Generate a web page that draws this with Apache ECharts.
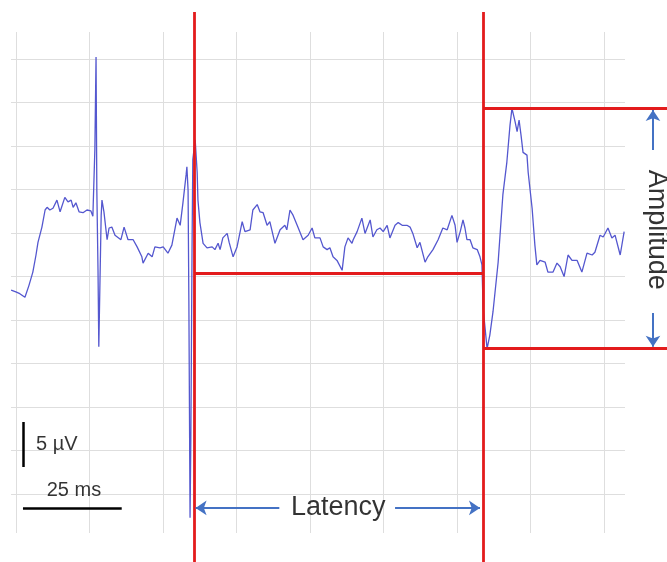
<!DOCTYPE html>
<html>
<head>
<meta charset="utf-8">
<script src="https://cdn.jsdelivr.net/npm/echarts@6/dist/echarts.min.js"></script>
<style>
  html, body { margin: 0; padding: 0; background: #ffffff; }
  #chart { width: 667px; height: 562px; }
</style>
</head>
<body>
<div id="chart"></div>
<script>
// Evoked response trace: time relative to stimulus (ms) and potential (µV)
const timeMs = [
  -46.3, -45.1, -44.1, -42.8, -41.8, -40.8, -40.0, -39.5, -38.5, -37.7,
  -37.2, -36.5, -35.7, -34.7, -33.9, -32.7, -31.9, -31.1, -30.6, -29.9,
  -29.1, -28.1, -27.1, -26.1, -25.6, -25.1, -24.8, -24.6, -24.3, -24.1,
  -23.8, -23.5, -23.3, -22.8, -22.0, -21.5, -20.8, -20.0, -19.5, -18.5,
  -17.7, -16.7, -15.4, -14.4, -13.2, -12.9, -11.6, -10.6, -9.9, -8.6,
  -7.8, -6.6, -5.6, -4.3, -3.5, -2.8, -2.0, -1.8, -1.5, -1.3,
  -1.0, -0.8, -0.5, -0.3, 0.3, 0.8, 1.0, 1.5, 2.3, 3.3,
  4.6, 5.3, 6.1, 6.6, 7.3, 8.4, 8.9, 9.9, 10.9, 12.2,
  12.9, 14.2, 14.9, 16.0, 16.7, 17.5, 18.5, 19.2, 20.5, 21.8,
  23.0, 23.5, 24.3, 25.1, 26.3, 27.6, 28.9, 29.9, 30.6, 31.9,
  32.7, 33.7, 34.4, 35.2, 36.2, 37.5, 38.2, 39.0, 40.0, 40.3,
  41.3, 42.5, 43.3, 44.6, 45.3, 46.3, 47.1, 47.9, 48.9, 49.6,
  50.9, 51.7, 52.7, 53.9, 54.7, 55.4, 56.5, 57.2, 58.5, 59.2,
  60.5, 61.8, 63.0, 64.1, 65.3, 66.1, 66.6, 67.4, 68.1, 68.6,
  69.1, 69.9, 70.6, 71.7, 72.4, 72.9, 73.2, 74.2, 74.9, 75.7,
  77.0, 78.2, 79.2, 80.0, 80.5, 81.3, 81.8, 82.3, 82.8, 83.3,
  84.3, 84.6, 85.6, 86.3, 86.8, 87.6, 88.9, 89.6, 90.9, 91.9,
  92.7, 93.7, 94.7, 95.7, 97.0, 98.2, 99.5, 100.8, 101.5, 102.8,
  103.6, 104.8, 105.8, 106.6, 107.9, 108.9
];
const potentialUv = [
  -1.9, -2.1, -2.3, -2.7, -1.4, 0.1, 2.0, 3.4, 5.1, 7.0,
  7.3, 7.0, 7.2, 8.1, 6.8, 8.4, 7.9, 8.1, 7.3, 7.8,
  6.8, 6.7, 7.0, 6.9, 6.3, 13.7, 24.0, 9.2, 0.3, -8.2,
  -0.8, 6.4, 8.1, 6.8, 3.7, 5.0, 5.1, 4.2, 4.4, 3.7,
  5.1, 3.7, 3.7, 2.9, 1.8, 1.1, 2.2, 1.8, 2.9, 2.8,
  2.9, 2.2, 3.1, 6.1, 5.3, 7.8, 10.9, 11.8, 9.2, -3.0,
  -27.2, -18.6, 2.6, 12.6, 14.8, 11.2, 8.1, 5.6, 3.3, 2.8,
  2.9, 2.6, 3.3, 2.6, 3.9, 4.4, 3.4, 1.8, 2.9, 5.7,
  4.6, 4.8, 7.0, 7.6, 6.8, 6.7, 5.3, 5.7, 3.3, 4.8,
  5.3, 4.8, 7.0, 6.4, 5.1, 3.7, 4.2, 5.0, 3.9, 3.9,
  2.9, 2.6, 2.8, 1.8, 1.4, 0.3, 2.9, 3.9, 3.3, 3.7,
  4.6, 6.1, 4.4, 5.9, 4.0, 4.8, 5.0, 4.6, 5.3, 3.9,
  5.3, 5.6, 5.3, 5.3, 5.1, 4.4, 2.8, 3.4, 1.2, 1.8,
  2.6, 3.7, 5.0, 4.8, 6.4, 5.3, 3.4, 4.6, 5.9, 5.0,
  3.7, 3.7, 2.8, 2.6, 1.8, 0.9, -3.9, -8.4, -6.9, -4.3,
  1.2, 8.7, 12.3, 16.4, 18.3, 16.8, 15.7, 17.0, 15.3, 13.4,
  13.1, 11.2, 7.2, 3.1, 0.9, 1.4, 1.2, 0.1, 0.1, 1.1,
  0.7, -0.4, 2.0, 1.4, 1.4, 0.1, 2.2, 2.0, 2.3, 4.2,
  4.0, 5.0, 3.9, 4.2, 2.0, 4.6
];

// Measurement markers
const stimulusMs = 0;
const responseOnsetMs = 73.2;      // latency end (trough of the response)
const baselineUv = 0;
const peakUv = 18.3;
const troughUv = -8.4;

// Scale bars
const scaleBarOriginMs = -43.3;
const scaleBarUv = 5;
const scaleBarMs = 25;

// Plot extents
const tMin = -46.33, tMax = 119.75;
const vMin = -32.11, vMax = 29.0;

const FONT = "'Liberation Sans', Arial, sans-serif";
const RED = '#e31b1c';
const ARROW = '#4472c4';

const trace = timeMs.map((t, i) => [t, potentialUv[i]]);

const latencyY = -26.1;
const amplitudeX = 116.2;
const barY = -26.1;
const vBarTop = -16.56;

function seg(a, b) { return { coords: [a, b] }; }

const labelBase = {
  show: true, position: 'inside', color: '#000000', fontFamily: FONT,
  align: 'center', verticalAlign: 'middle',
  textBorderWidth: 0, textShadowBlur: 0
};

const option = {
  animation: false,
  backgroundColor: '#ffffff',
  grid: [
    { left: 11, right: 42, top: 59, bottom: 68 },   // horizontal rulings
    { left: 16, right: 63, top: 32, bottom: 29 },   // vertical rulings
    { left: 11, right: 0, top: 12, bottom: 0 }      // data
  ],
  xAxis: [
    { gridIndex: 0, type: 'value', min: 0, max: 1, show: false },
    { gridIndex: 1, type: 'value', min: 0, max: 8, interval: 1,
      axisLine: { show: false }, axisTick: { show: false }, axisLabel: { show: false },
      splitLine: { show: true, lineStyle: { color: '#dedede', width: 1 } } },
    { gridIndex: 2, type: 'value', min: tMin, max: tMax, show: false }
  ],
  yAxis: [
    { gridIndex: 0, type: 'value', min: 0, max: 10, interval: 1,
      axisLine: { show: false }, axisTick: { show: false }, axisLabel: { show: false },
      splitLine: { show: true, lineStyle: { color: '#dedede', width: 1 } } },
    { gridIndex: 1, type: 'value', min: 0, max: 1, show: false },
    { gridIndex: 2, type: 'value', min: vMin, max: vMax, show: false }
  ],
  series: [
    {
      type: 'line', xAxisIndex: 2, yAxisIndex: 2,
      data: trace, showSymbol: false, symbol: 'none',
      lineStyle: { color: '#5457cf', width: 1.3 },
      z: 3
    },
    {
      // latency / amplitude guide lines
      type: 'lines', coordinateSystem: 'cartesian2d', xAxisIndex: 2, yAxisIndex: 2,
      symbol: 'none',
      lineStyle: { color: RED, width: 2.8, opacity: 1 },
      data: [
        seg([stimulusMs, vMin], [stimulusMs, vMax]),
        seg([responseOnsetMs, vMin], [responseOnsetMs, vMax]),
        seg([stimulusMs, baselineUv], [responseOnsetMs, baselineUv]),
        seg([responseOnsetMs, peakUv], [tMax, peakUv]),
        seg([responseOnsetMs, troughUv], [tMax, troughUv])
      ],
      z: 4
    },
    {
      // dimension arrows
      type: 'lines', coordinateSystem: 'cartesian2d', xAxisIndex: 2, yAxisIndex: 2,
      symbol: ['none', 'arrow'], symbolSize: [9, 11],
      lineStyle: { color: ARROW, width: 2, opacity: 1 },
      data: [
        seg([21.6, latencyY], [0.4, latencyY]),
        seg([50.9, latencyY], [72.4, latencyY]),
        seg([amplitudeX, 13.67], [amplitudeX, 18.1]),
        seg([amplitudeX, -4.44], [amplitudeX, -8.2])
      ],
      z: 5
    },
    {
      // scale bars
      type: 'lines', coordinateSystem: 'cartesian2d', xAxisIndex: 2, yAxisIndex: 2,
      symbol: 'none',
      lineStyle: { color: '#000000', width: 2.5, opacity: 1 },
      data: [
        seg([scaleBarOriginMs, vBarTop], [scaleBarOriginMs, vBarTop - scaleBarUv]),
        seg([scaleBarOriginMs, barY], [scaleBarOriginMs + scaleBarMs, barY])
      ],
      z: 5
    },
    {
      type: 'scatter', xAxisIndex: 2, yAxisIndex: 2, symbolSize: 0, silent: true,
      data: [
        { value: [36.5, latencyY], label: Object.assign({}, labelBase, { formatter: 'Latency', fontSize: 27 }) },
        { value: [117.0, 4.8], label: Object.assign({}, labelBase, { formatter: 'Amplitude', fontSize: 27, rotate: -90 }) },
        { value: [-40.0, -19.1], label: Object.assign({}, labelBase, { formatter: '5 µV', fontSize: 20, align: 'left' }) },
        { value: [-30.4, -24.2], label: Object.assign({}, labelBase, { formatter: '25 ms', fontSize: 20 }) }
      ],
      label: labelBase,
      z: 6
    }
  ]
};

const chart = echarts.init(document.getElementById('chart'), null, { renderer: 'canvas' });
chart.setOption(option);
</script>
</body>
</html>
